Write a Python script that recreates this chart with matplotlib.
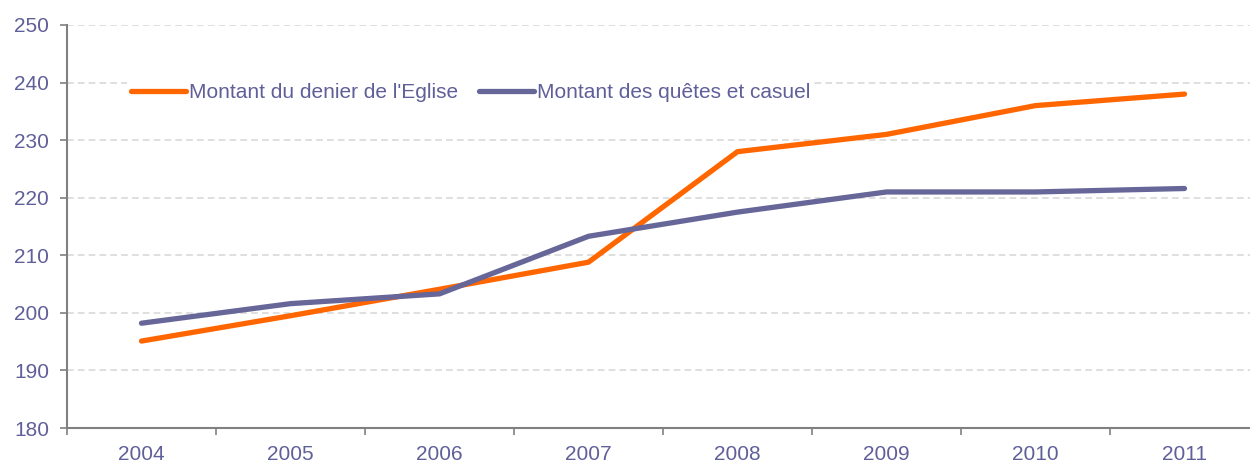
import matplotlib.pyplot as plt
import numpy as np

plt.rcParams['font.family'] = ['Liberation Sans', 'DejaVu Sans']

years = ['2004', '2005', '2006', '2007', '2008', '2009', '2010', '2011']
denier = [195.1, 199.5, 204.1, 208.8, 228.0, 231.0, 236.0, 238.0]
quetes = [198.2, 201.6, 203.3, 213.3, 217.5, 221.0, 221.0, 221.6]

orange = '#FF6600'
violet = '#666699'
txt = '#5F5F99'
gris = '#808080'

fig = plt.figure(figsize=(12.5, 4.62), dpi=100)
ax = fig.add_axes([67 / 1250, 1 - 428 / 462, (1259 - 67) / 1250, (428 - 25) / 462])

x = np.arange(len(years))
ax.plot(x, denier, color=orange, lw=3.8, solid_capstyle='round', label="Montant du denier de l'Eglise")
ax.plot(x, quetes, color=violet, lw=3.8, solid_capstyle='round', label='Montant des quêtes et casuel')

ax.set_xlim(-0.5, len(years) - 0.5)
ax.set_ylim(180, 250)
ax.set_yticks(range(180, 251, 10))
ax.set_xticks(x)
ax.set_xticklabels(years)
ax.set_xticks(np.arange(-0.5, len(years)), minor=True)

ax.grid(axis='y', color='#D9D9D9', ls=(0, (4, 2.5)), lw=1.2)
ax.set_axisbelow(True)
for s in ['top', 'right']:
    ax.spines[s].set_visible(False)
for s in ['left', 'bottom']:
    ax.spines[s].set_color(gris)
    ax.spines[s].set_linewidth(1.5)

ax.tick_params(axis='x', which='major', length=0, pad=12, labelsize=15, labelcolor=txt)
ax.tick_params(axis='x', which='minor', length=5, width=1.2, color=gris, direction='out')
ax.tick_params(axis='y', length=5, width=1.2, color=gris, pad=8, labelsize=15, labelcolor=txt)

leg = ax.legend(loc='center left', bbox_to_anchor=(127 / 1250, 1 - 93 / 462),
                bbox_transform=fig.transFigure, ncol=2, frameon=True, fontsize=15,
                handlelength=2.65, handletextpad=0.12, columnspacing=1.0,
                borderpad=0.2, borderaxespad=0)
leg.get_frame().set_edgecolor('none')
leg.get_frame().set_facecolor('white')
leg.get_frame().set_alpha(1)
for t in leg.get_texts():
    t.set_color(txt)

fig.savefig('out.png', dpi=100)
